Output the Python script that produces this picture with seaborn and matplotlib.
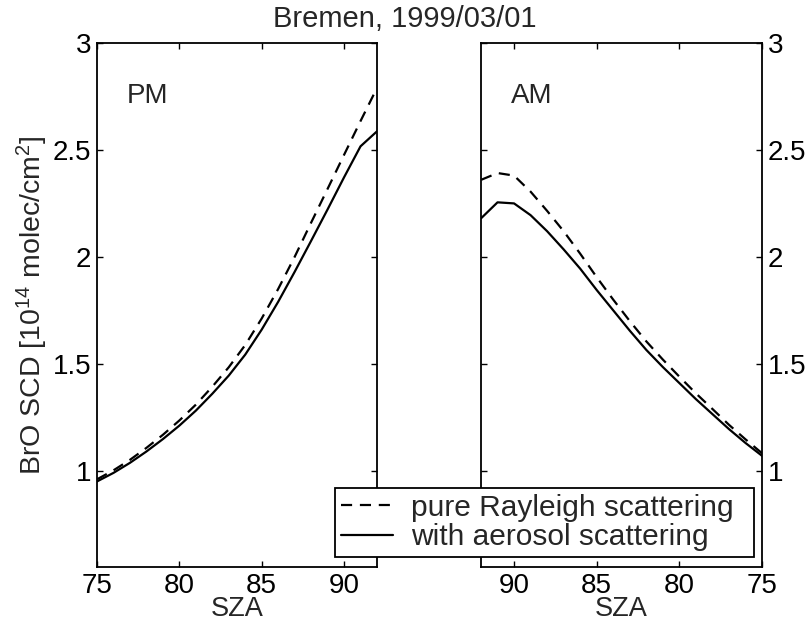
import numpy as np
import pandas as pd
import matplotlib
matplotlib.use("Agg")
import matplotlib.pyplot as plt
import seaborn as sns

# ---- data ----
sza = [75, 76, 77, 78, 79, 80, 81, 82, 83, 84, 85, 86, 87, 88, 89, 90, 91, 92]
pm_rayleigh = [0.96, 1.002, 1.051, 1.107, 1.168, 1.235, 1.309, 1.393, 1.484, 1.588,
               1.712, 1.85, 2.00, 2.16, 2.318, 2.477, 2.635, 2.79]
pm_aerosol = [0.95, 0.99, 1.037, 1.09, 1.148, 1.211, 1.281, 1.36, 1.445, 1.543,
              1.66, 1.79, 1.93, 2.075, 2.222, 2.372, 2.517, 2.587]
am_rayleigh = [1.082, 1.147, 1.215, 1.289, 1.362, 1.44, 1.52, 1.605, 1.70, 1.80,
               1.905, 2.015, 2.12, 2.215, 2.305, 2.38, 2.392, 2.36]
am_aerosol = [1.07, 1.13, 1.195, 1.265, 1.335, 1.41, 1.485, 1.565, 1.655, 1.75,
              1.845, 1.945, 2.035, 2.12, 2.195, 2.25, 2.255, 2.18]
xticks = [75, 80, 85, 90]
yticks = [1, 1.5, 2, 2.5, 3]
ytick_labels = ["1", "1.5", "2", "2.5", "3"]
legend_labels = ["pure Rayleigh scattering", "with aerosol scattering"]

sns.set_style("white")
plt.rcParams['font.family'] = ['Liberation Sans', 'DejaVu Sans']
plt.rcParams['mathtext.fontset'] = 'custom'
plt.rcParams['mathtext.rm'] = 'Liberation Sans'
plt.rcParams['mathtext.it'] = 'Liberation Sans'

FS = 20
fig = plt.figure(figsize=(8.1, 6.3), dpi=100)
W, H = 810, 630
ax1 = fig.add_axes([97 / W, 1 - 567 / H, (377 - 97) / W, (567 - 43) / H])
ax2 = fig.add_axes([481 / W, 1 - 567 / H, (762 - 481) / W, (567 - 43) / H])

lw = 1.6
dash = (5, 3.5)
sns.lineplot(x=sza, y=pm_rayleigh, ax=ax1, color='black', linewidth=lw)
ax1.lines[-1].set_dashes(dash)
sns.lineplot(x=sza, y=pm_aerosol, ax=ax1, color='black', linewidth=lw)
sns.lineplot(x=sza, y=am_rayleigh, ax=ax2, color='black', linewidth=lw)
ax2.lines[-1].set_dashes(dash)
sns.lineplot(x=sza, y=am_aerosol, ax=ax2, color='black', linewidth=lw)

for ax in (ax1, ax2):
    ax.set_ylim(0.55, 3)
    ax.set_xticks(xticks)
    ax.set_xticklabels([str(t) for t in xticks])
    ax.set_yticks(yticks)
    ax.set_yticklabels(ytick_labels)
    ax.tick_params(direction='in', length=4.5, width=1.0, labelsize=FS,
                   top=True, bottom=True, left=True, right=True, colors='black')
    ax.tick_params(axis='x', pad=4)
    ax.tick_params(axis='y', pad=4)
    ax.set_xlabel("SZA", fontsize=19.5, labelpad=-1.5)
    for s in ax.spines.values():
        s.set_linewidth(1.3)
        s.set_color('black')
        s.set_visible(True)

ax1.set_xlim(75, 92)
ax2.set_xlim(92, 75)
ax1.tick_params(labelleft=True, labelright=False)
ax2.tick_params(labelleft=False, labelright=True)
ax1.set_ylabel("BrO SCD [10$^{14}$ molec/cm$^2$]", fontsize=20.5, labelpad=2)
ax2.set_ylabel("")

ax1.text(76.8, 2.75, "PM", fontsize=FS, ha='left', va='center')
ax2.text(90.2, 2.75, "AM", fontsize=FS, ha='left', va='center')

fig.text(0.5, 1 - 19 / H, "Bremen, 1999/03/01", fontsize=21, ha='center', va='center')

h_dash = matplotlib.lines.Line2D([], [], color='black', linewidth=lw, dashes=dash)
h_solid = matplotlib.lines.Line2D([], [], color='black', linewidth=lw)
leg = fig.legend([h_dash, h_solid], legend_labels, loc='center',
                 bbox_to_anchor=(335 / W, 1 - 559 / H, (754 - 335) / W, (559 - 486) / H),
                 mode='expand', fontsize=21.5, frameon=True, fancybox=False,
                 edgecolor='black', framealpha=1, borderpad=0.2, labelspacing=0.05,
                 handlelength=1.75, handletextpad=0.6, borderaxespad=0)
leg.get_frame().set_linewidth(1.3)

fig.savefig("out.png", dpi=100)
